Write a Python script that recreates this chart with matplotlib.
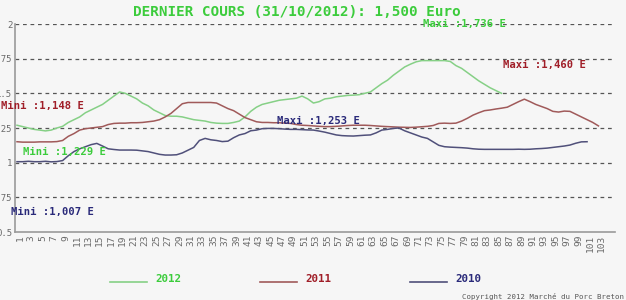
import numpy as np
import matplotlib
matplotlib.use("Agg")
import matplotlib.pyplot as plt
from matplotlib.lines import Line2D

# ---------------- data ----------------
prix_2012 = [1.27, 1.26, 1.25, 1.24, 1.235, 1.229, 1.235, 1.25, 1.262, 1.29,
             1.31, 1.33, 1.36, 1.38, 1.40, 1.42, 1.45, 1.48, 1.51, 1.50,
             1.48, 1.46, 1.43, 1.41, 1.38, 1.36, 1.34, 1.335, 1.335, 1.33,
             1.32, 1.31, 1.305, 1.30, 1.29, 1.285, 1.283, 1.283, 1.29, 1.30,
             1.33, 1.37, 1.40, 1.42, 1.43, 1.44, 1.45, 1.455, 1.46, 1.465,
             1.48, 1.46, 1.43, 1.44, 1.46, 1.465, 1.475, 1.48, 1.485, 1.487,
             1.49, 1.50, 1.51, 1.54, 1.57, 1.595, 1.63, 1.66, 1.69, 1.71,
             1.727, 1.736, 1.736, 1.736, 1.736, 1.736, 1.73, 1.70, 1.68, 1.65,
             1.62, 1.59, 1.565, 1.54, 1.52, 1.50]

prix_2011 = [1.151, 1.148, 1.148, 1.148, 1.15, 1.15, 1.15, 1.152, 1.16, 1.19,
             1.21, 1.235, 1.245, 1.25, 1.255, 1.26, 1.275, 1.283, 1.285, 1.285,
             1.288, 1.288, 1.29, 1.295, 1.30, 1.31, 1.33, 1.355, 1.39, 1.425,
             1.434, 1.434, 1.434, 1.434, 1.434, 1.43, 1.41, 1.39, 1.375, 1.35,
             1.325, 1.31, 1.295, 1.29, 1.29, 1.288, 1.288, 1.285, 1.283, 1.275,
             1.27, 1.268, 1.265, 1.262, 1.26, 1.26, 1.262, 1.265, 1.268, 1.27,
             1.27, 1.27, 1.268, 1.265, 1.262, 1.26, 1.258, 1.256, 1.255, 1.254,
             1.256, 1.259, 1.262, 1.268, 1.283, 1.285, 1.283, 1.285, 1.30, 1.32,
             1.343, 1.36, 1.375, 1.38, 1.387, 1.393, 1.40, 1.42, 1.44, 1.458,
             1.44, 1.42, 1.405, 1.39, 1.37, 1.365, 1.372, 1.37, 1.35, 1.33,
             1.31, 1.29, 1.265]

prix_2010 = [1.007, 1.007, 1.01, 1.007, 1.007, 1.01, 1.006, 1.008, 1.015, 1.05,
             1.08, 1.10, 1.115, 1.13, 1.139, 1.12, 1.10, 1.095, 1.091, 1.091,
             1.091, 1.09, 1.085, 1.08, 1.07, 1.06, 1.055, 1.055, 1.057, 1.07,
             1.09, 1.11, 1.16, 1.175, 1.165, 1.16, 1.152, 1.155, 1.18, 1.20,
             1.21, 1.23, 1.235, 1.245, 1.247, 1.247, 1.245, 1.242, 1.24, 1.24,
             1.238, 1.236, 1.235, 1.228, 1.22, 1.21, 1.20, 1.195, 1.193, 1.192,
             1.195, 1.198, 1.20, 1.215, 1.235, 1.24, 1.247, 1.25, 1.23, 1.215,
             1.20, 1.185, 1.175, 1.15, 1.125, 1.115, 1.112, 1.11, 1.108, 1.105,
             1.10, 1.097, 1.096, 1.096, 1.096, 1.096, 1.096, 1.096, 1.097, 1.096,
             1.097, 1.10, 1.102, 1.105, 1.11, 1.115, 1.12, 1.127, 1.14, 1.15,
             1.151]

tick_labels = [str(i) for i in range(1, 104, 2)]
y_ticks = [0.5, 0.75, 1.0, 1.25, 1.5, 1.75, 2.0]
y_tick_labels = ["0.5", "0.75", "1", "1.25", "1.5", "1.75", "2"]
series_names = ["2012", "2011", "2010"]
titre = "DERNIER COURS (31/10/2012): 1,500 Euro"

# ---------------- style ----------------
c_green_line = "#86d086"
c_green_txt = "#3ccc3c"
c_red_line = "#a05a5a"
c_red_txt = "#a01e28"
c_blue_line = "#50507a"
c_blue_txt = "#2a2a7a"
bg = "#f6f6f6"
mono = "DejaVu Sans Mono"

fig = plt.figure(figsize=(6.26, 3.00), dpi=100, facecolor=bg)
ax = fig.add_axes([15/626, 1-232/300, 600/626, 208/300], facecolor=bg)

x12 = np.arange(1, len(prix_2012)+1)
x11 = np.arange(1, len(prix_2011)+1)
x10 = np.arange(1, len(prix_2010)+1)

ax.plot(x12, prix_2012, color=c_green_line, lw=1.1, zorder=3)
ax.plot(x11, prix_2011, color=c_red_line, lw=1.1, zorder=3)
ax.plot(x10, prix_2010, color=c_blue_line, lw=1.1, zorder=3)

ax.set_xlim(0.65, 105.9)
ax.set_ylim(0.5, 2.0)

for v in y_ticks[1:]:
    ax.axhline(v, color="#555555", lw=0.9, ls=(0, (3, 3)), zorder=1)

for s in ["top", "right"]:
    ax.spines[s].set_visible(False)
ax.spines["left"].set_color("#9a9a9a")
ax.spines["bottom"].set_color("#9a9a9a")
ax.spines["left"].set_linewidth(1.2)
ax.spines["bottom"].set_linewidth(1.2)

xt = np.arange(1, 104, 2) + 0.5
ax.set_xticks(xt)
ax.set_xticklabels(tick_labels, rotation=90, fontsize=6.8, family=mono,
                   color="#6a6a6a")
ax.set_yticks(y_ticks)
ax.set_yticklabels(y_tick_labels, fontsize=6.5, family=mono, color="#6a6a6a")
ax.tick_params(axis="both", length=0, pad=2)

items = [
    (423, 24, "Maxi :1,736 E", c_green_txt),
    (503, 65, "Maxi :1,460 E", c_red_txt),
    (1, 106, "Mini :1,148 E", c_red_txt),
    (277, 121, "Maxi :1,253 E", c_blue_txt),
    (23, 152, "Mini :1,229 E", c_green_txt),
    (11, 212, "Mini :1,007 E", c_blue_txt),
]
for px, py, s, c in items:
    fig.text(px/626, 1-py/300, s, color=c, fontsize=7.6, family=mono,
             fontweight="bold", ha="left", va="center", zorder=5)

fig.text(297/626, 1-12/300, titre, color=c_green_txt, fontsize=10.3,
         family=mono, fontweight="bold", ha="center", va="center")

# legend
leg = [(110, series_names[0], c_green_line, c_green_txt),
       (260, series_names[1], c_red_line, c_red_txt),
       (410, series_names[2], c_blue_line, c_blue_txt)]
for px, name, lc, tc in leg:
    fig.add_artist(Line2D([px/626, (px+37)/626], [1-282/300, 1-282/300],
                          color=lc, lw=1.2, transform=fig.transFigure))
    fig.text((px+45)/626, 1-279/300, name, color=tc, fontsize=7.8,
             family=mono, fontweight="bold", ha="left", va="center")

fig.text(624/626, 1-296/300, "Copyright 2012 March\u00e9 du Porc Breton",
         color="#555555", fontsize=5.3, family=mono, ha="right", va="center")

fig.savefig("out.png", dpi=100, facecolor=bg)
